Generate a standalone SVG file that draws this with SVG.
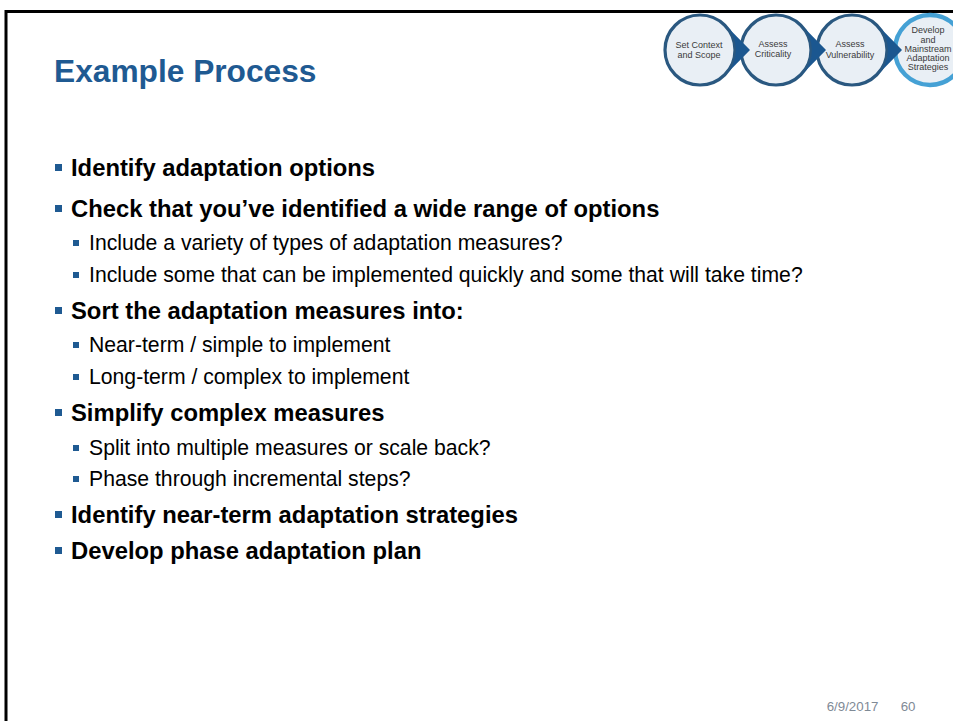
<svg xmlns="http://www.w3.org/2000/svg" width="953" height="721" viewBox="0 0 953 721">
<style>
.title{font-family:"Liberation Sans",Arial,sans-serif;font-weight:bold;font-size:31.7px;fill:#1f5a92}
.b1{font-family:"Liberation Sans",Arial,sans-serif;font-weight:bold;font-size:23.8px;fill:#000}
.b2{font-family:"Liberation Sans",Arial,sans-serif;font-size:21.2px;fill:#000}
.sq{fill:#1f5a92}
.ring{fill:#e9eff5;stroke:#2a5880;stroke-width:3.2}
.ring4{fill:#e9eff5;stroke:#45a1d5;stroke-width:4.5}
.arr{fill:#1b5790}
.ct{font-family:"Liberation Sans",Arial,sans-serif;font-size:9px;fill:#3a3a3a;text-anchor:middle}
.foot{font-family:"Liberation Sans",Arial,sans-serif;font-size:13.3px;fill:#7f8a96}
.frame{stroke:#000;stroke-width:3;fill:none}
</style>
<rect width="953" height="721" fill="#fff"/>
<path class="frame" d="M6 721 V11.5 H953"/>
<g id="process-graphic">
  <g id="step1"><circle class="ring" cx="700" cy="50" r="35"/></g>
  <g id="step2"><circle class="ring" cx="776" cy="50" r="35"/></g>
  <g id="step3"><circle class="ring" cx="852" cy="50" r="35"/></g>
  <g id="step4"><circle class="ring4" cx="930" cy="50" r="35"/></g>
  <g id="connectors">
    <path class="arr" d="M725.2 75.2 L750 50 L725.2 24.8 A35 35 0 0 1 725.2 75.2 Z"/>
    <path class="arr" d="M801.2 75.2 L826 50 L801.2 24.8 A35 35 0 0 1 801.2 75.2 Z"/>
    <path class="arr" d="M877.2 75.2 L902 50 L877.2 24.8 A35 35 0 0 1 877.2 75.2 Z"/>
  </g>
  <g id="step-labels">
    <text class="ct" x="699" y="48">Set Context</text>
    <text class="ct" x="699" y="57.5">and Scope</text>
    <text class="ct" x="773" y="47">Assess</text>
    <text class="ct" x="773" y="57">Criticality</text>
    <text class="ct" x="850" y="47.3">Assess</text>
    <text class="ct" x="850" y="57.5">Vulnerability</text>
    <text class="ct" x="928" y="33.3">Develop</text>
    <text class="ct" x="928" y="42.5">and</text>
    <text class="ct" x="928" y="51.7">Mainstream</text>
    <text class="ct" x="928" y="60.8">Adaptation</text>
    <text class="ct" x="928" y="70">Strategies</text>
  </g>
</g>
<text class="title" x="54" y="82">Example Process</text>
<g id="bullets">
  <rect class="sq" x="55" y="164" width="7" height="7"/>
  <text class="b1" x="71" y="176">Identify adaptation options</text>
  <rect class="sq" x="55" y="205" width="7" height="7"/>
  <text class="b1" x="71" y="217">Check that you’ve identified a wide range of options</text>
  <rect class="sq" x="73" y="240" width="6" height="6"/>
  <text class="b2" x="89" y="250">Include a variety of types of adaptation measures?</text>
  <rect class="sq" x="73" y="272" width="6" height="6"/>
  <text class="b2" x="89" y="282">Include some that can be implemented quickly and some that will take time?</text>
  <rect class="sq" x="55" y="307" width="7" height="7"/>
  <text class="b1" x="71" y="319">Sort the adaptation measures into:</text>
  <rect class="sq" x="73" y="342" width="6" height="6"/>
  <text class="b2" x="89" y="352">Near-term / simple to implement</text>
  <rect class="sq" x="73" y="374" width="6" height="6"/>
  <text class="b2" x="89" y="384">Long-term / complex to implement</text>
  <rect class="sq" x="55" y="409" width="7" height="7"/>
  <text class="b1" x="71" y="421">Simplify complex measures</text>
  <rect class="sq" x="73" y="445" width="6" height="6"/>
  <text class="b2" x="89" y="455">Split into multiple measures or scale back?</text>
  <rect class="sq" x="73" y="476" width="6" height="6"/>
  <text class="b2" x="89" y="486">Phase through incremental steps?</text>
  <rect class="sq" x="55" y="511" width="7" height="7"/>
  <text class="b1" x="71" y="523">Identify near-term adaptation strategies</text>
  <rect class="sq" x="55" y="547" width="7" height="7"/>
  <text class="b1" x="71" y="559">Develop phase adaptation plan</text>
</g>
<text class="foot" x="826.7" y="710.7">6/9/2017</text>
<text class="foot" x="900.7" y="710.7">60</text>
</svg>
